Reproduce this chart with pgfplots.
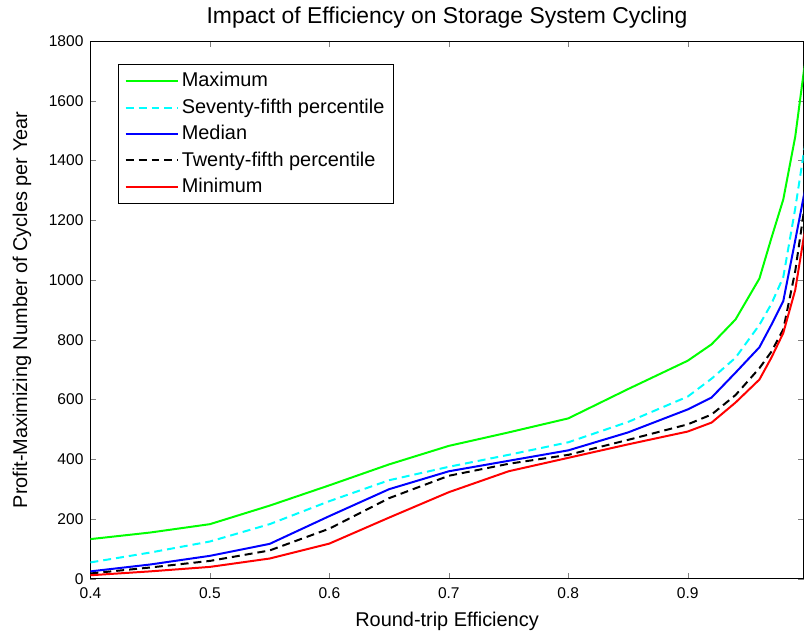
\documentclass[border=0pt]{standalone}
\usepackage{fontspec}
\setmainfont{Liberation Sans}
\usepackage{pgfplots}
\pgfplotsset{compat=1.18}
\usepackage{pgfplotstable}
\pgfplotstableread{
x     mx    pa    md    pb    mn
0.40  133   55    25    18    12
0.45  155   88    48    38    25
0.50  183   125   77    60    40
0.55  245   183   117   95    68
0.60  313   260   210   168   118
0.65  383   330   300   270   205
0.70  445   375   360   345   290
0.75  490   415   395   385   360
0.80  537   457   430   415   405
0.85  635   525   490   465   450
0.90  730   610   567   517   493
0.92  785   670   607   550   523
0.94  868   740   690   615   590
0.96  1005  850   775   705   667
0.97  1140  920   850   760   740
0.98  1270  1010  930   835   823
0.99  1480  1240  1133  1030  967
1.00  1784  1500  1340  1306  1214
}\datatable
\begin{document}
\begin{tikzpicture}
\begin{axis}[
 scale only axis, width=358pt, height=270pt,
 xmin=0.4, xmax=0.997, ymin=0, ymax=1800,
 xtick={0.4,0.5,0.6,0.7,0.8,0.9}, ytick={0,200,...,1800},
 tick align=inside, tick pos=both,
 major tick length=3pt,
 /pgf/number format/assume math mode=true,
 /pgf/number format/1000 sep={},
 xticklabel style={/pgf/number format/fixed, /pgf/number format/precision=1, yshift=-1pt},
 ticklabel style={font=\fontsize{7.8}{9}\selectfont},
 title={Impact of Efficiency on Storage System Cycling},
 title style={font=\fontsize{11.5}{14}\selectfont, yshift=-3pt},
 xlabel={Round-trip Efficiency},
 ylabel={Profit-Maximizing Number of Cycles per Year},
 ylabel shift=2pt,
 label style={font=\fontsize{10}{12}\selectfont},
 legend style={at={(0.039,0.957)}, anchor=north west, font=\fontsize{10}{12}\selectfont, draw=black, row sep=0.5pt, inner xsep=3pt, inner ysep=2pt, nodes={inner xsep=1.5pt}},
 legend cell align=left,
 legend image code/.code={\draw[#1] (0cm,0cm) -- (0.92cm,0cm);},
 every axis plot/.append style={line width=1pt},
]
\addplot[color={rgb,1:red,0;green,1;blue,0}] table[x=x,y=mx] {\datatable};
\addlegendentry{Maximum}
\addplot[color={rgb,1:red,0;green,1;blue,1}, dash pattern=on 4pt off 2.5pt] table[x=x,y=pa] {\datatable};
\addlegendentry{Seventy-fifth percentile}
\addplot[color={rgb,1:red,0;green,0;blue,1}] table[x=x,y=md] {\datatable};
\addlegendentry{Median}
\addplot[color=black, dash pattern=on 4pt off 2.5pt] table[x=x,y=pb] {\datatable};
\addlegendentry{Twenty-fifth percentile}
\addplot[color={rgb,1:red,1;green,0;blue,0}] table[x=x,y=mn] {\datatable};
\addlegendentry{Minimum}
\end{axis}
\path ([xshift=-3pt,yshift=-3pt]current bounding box.south west);
\end{tikzpicture}
\end{document}
